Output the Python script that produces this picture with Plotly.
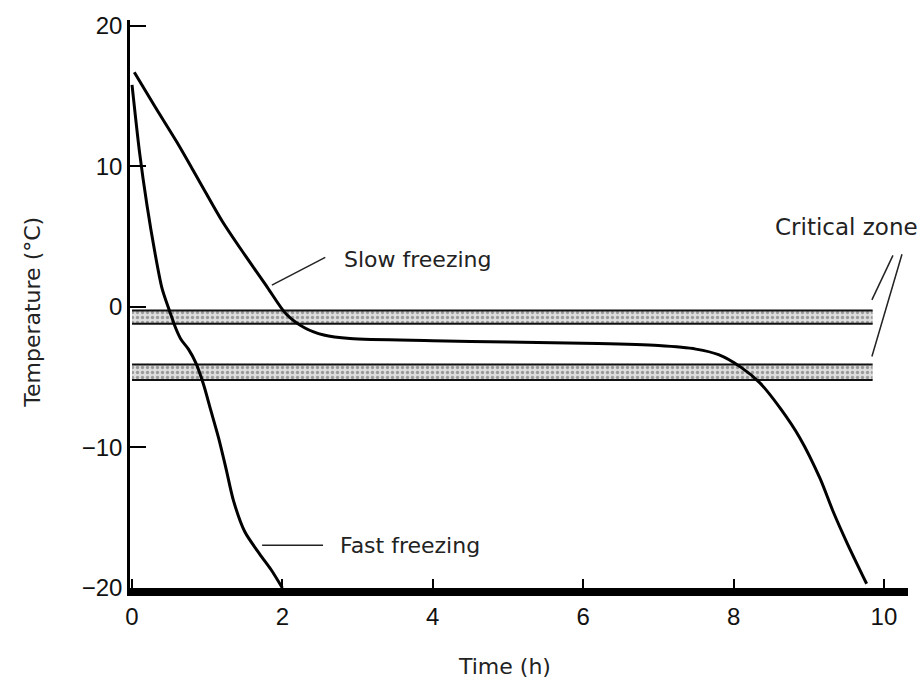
import plotly.graph_objects as go

# ---- data ----
slow_t = [0.03, 0.3, 0.6, 0.9, 1.2, 1.5, 1.8, 2.05, 2.3, 2.55, 2.9, 4.0, 5.0, 6.2, 7.0, 7.5, 7.8, 8.1, 8.35, 8.62, 8.88, 9.15, 9.32, 9.51, 9.77]
slow_temp = [16.7, 14.3, 11.7, 8.9, 6.1, 3.7, 1.4, -0.5, -1.5, -2.0, -2.25, -2.4, -2.5, -2.6, -2.75, -3.0, -3.4, -4.3, -5.4, -7.2, -9.3, -12.2, -14.5, -16.8, -19.7]

fast_t = [0.0, 0.1, 0.2, 0.3, 0.4, 0.5, 0.58, 0.65, 0.75, 0.85, 0.95, 1.05, 1.15, 1.25, 1.35, 1.5, 1.7, 1.85, 2.0]
fast_temp = [15.8, 11.0, 7.2, 4.0, 1.3, -0.3, -1.5, -2.3, -3.0, -4.0, -5.5, -7.4, -9.3, -11.5, -13.8, -16.0, -17.6, -18.7, -20.0]

# critical zones (top, bottom) and their extent in time
zones = [(-0.25, -1.2), (-4.1, -5.2)]
zone_t = [0.0, 9.85]

x_ticks = [0, 2, 4, 6, 8, 10]
y_ticks = [-20, -10, 0, 10, 20]
y_tick_text = ["\u221220", "\u221210", "0", "10", "20"]

fig = go.Figure()

# critical zone bands
for top, bot in zones:
    fig.add_trace(go.Scatter(
        x=[zone_t[0], zone_t[1], zone_t[1], zone_t[0], zone_t[0]],
        y=[top, top, bot, bot, top],
        mode="lines", fill="toself", line=dict(width=0),
        fillcolor="#d8d8d8",
        fillpattern=dict(shape=".", fgcolor="#555555", bgcolor="#dedede", size=5, solidity=0.35),
        hoverinfo="skip", showlegend=False))
    for yy in (top, bot):
        fig.add_trace(go.Scatter(x=zone_t, y=[yy, yy], mode="lines",
                                 line=dict(color="#111111", width=2),
                                 hoverinfo="skip", showlegend=False))

# curves
fig.add_trace(go.Scatter(x=slow_t, y=slow_temp, mode="lines",
                         line=dict(color="black", width=3, shape="spline", smoothing=0.8),
                         showlegend=False, name="Slow freezing"))
fig.add_trace(go.Scatter(x=fast_t, y=fast_temp, mode="lines",
                         line=dict(color="black", width=3, shape="spline", smoothing=0.8),
                         showlegend=False, name="Fast freezing"))

# leader lines
leaders = [
    ((1.86, 1.55), (2.57, 3.53)),
    ((1.73, -16.96), (2.54, -16.96)),
    ((9.84, 0.5), (10.12, 3.67)),
    ((9.84, -3.53), (10.24, 3.75)),
]
for (x0, y0), (x1, y1) in leaders:
    fig.add_shape(type="line", xref="x", yref="y", x0=x0, y0=y0, x1=x1, y1=y1,
                  line=dict(color="#222222", width=1.5))

lab_font = dict(family="DejaVu Sans", size=22, color="#222222")
fig.add_annotation(x=2.79, y=3.4, xref="x", yref="y", text="Slow freezing",
                   showarrow=False, xanchor="left", yanchor="middle", font=lab_font)
fig.add_annotation(x=2.74, y=-16.96, xref="x", yref="y", text="Fast freezing",
                   showarrow=False, xanchor="left", yanchor="middle", font=lab_font)
fig.add_annotation(x=1.016, y=0.635, xref="paper", yref="paper", text="Critical zone",
                   showarrow=False, xanchor="right", yanchor="middle",
                   font=dict(family="DejaVu Sans", size=23, color="#222222"))
fig.add_annotation(x=-0.125, y=0.486, xref="paper", yref="paper", text="Temperature (°C)",
                   showarrow=False, textangle=-90, xanchor="center", yanchor="middle", font=lab_font)
fig.add_annotation(x=0.482, y=-0.138, xref="paper", yref="paper", text="Time (h)",
                   showarrow=False, xanchor="center", yanchor="middle", font=lab_font)

tick_font = dict(family="Liberation Sans", size=24, color="#111111")
fig.update_xaxes(range=[-0.027, 10.32], tickvals=x_ticks, ticktext=[str(v) for v in x_ticks],
                 showline=True, linewidth=8, linecolor="black", ticks="inside", ticklen=9,
                 tickwidth=1.5, tickcolor="black", showgrid=False, zeroline=False,
                 tickfont=tick_font)
fig.update_yaxes(range=[-20, 20.42], tickvals=y_ticks, ticktext=y_tick_text,
                 showline=True, linewidth=2.5, linecolor="black", ticks="inside", ticklen=16,
                 tickwidth=2, tickcolor="black", showgrid=False, zeroline=False,
                 tickfont=tick_font)
fig.update_layout(width=923, height=681, margin=dict(l=130, r=15, t=16, b=93),
                  plot_bgcolor="white", paper_bgcolor="white")

fig.write_html("out.html")
